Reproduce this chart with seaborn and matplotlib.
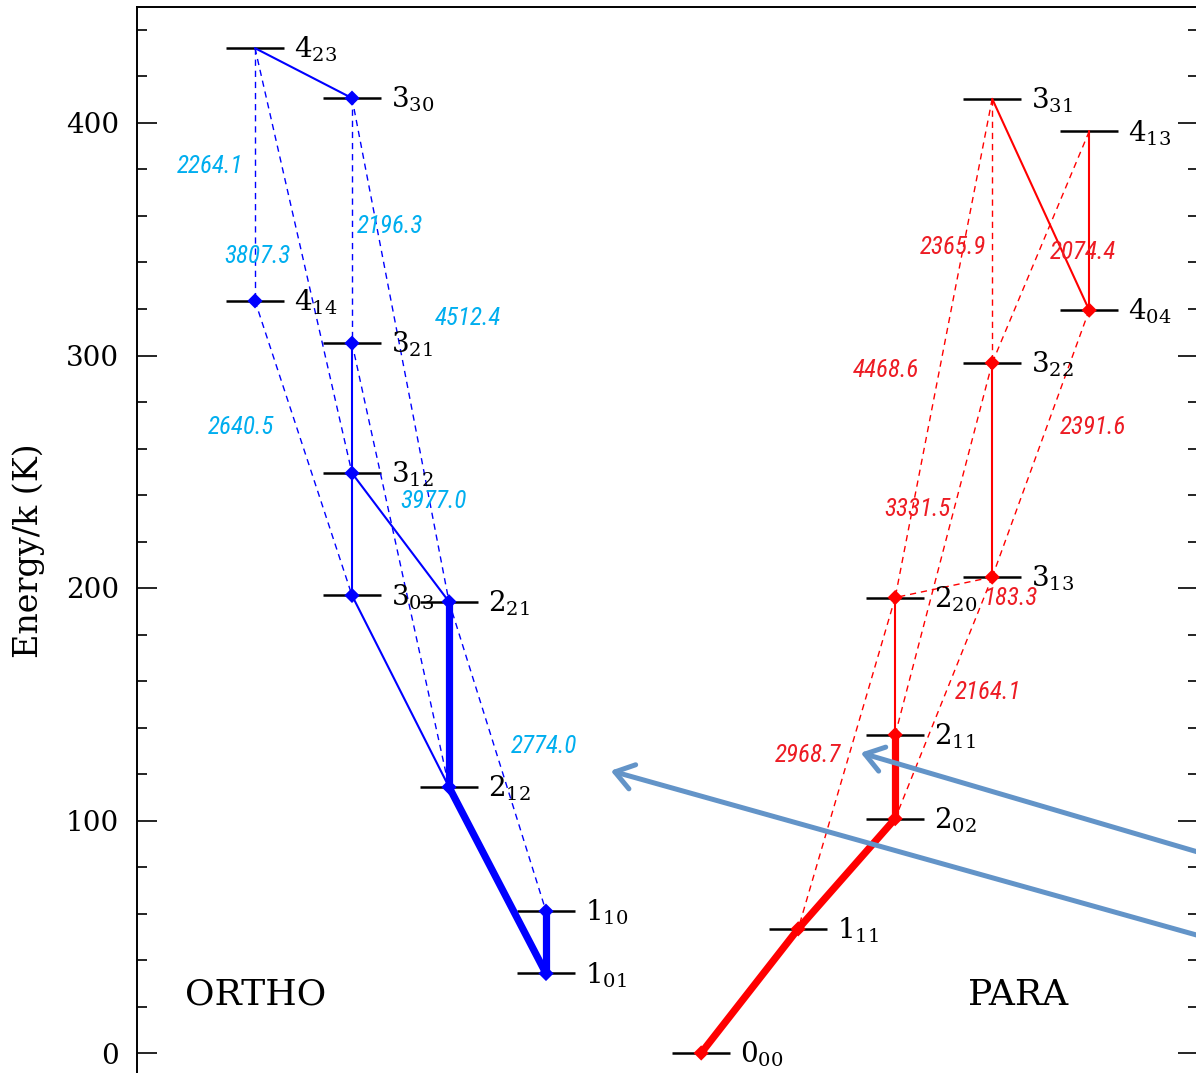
import numpy as np
import pandas as pd
import matplotlib
matplotlib.use("Agg")
import matplotlib.pyplot as plt
import seaborn as sns

# ---------------- data ----------------
ortho_levels = ["1_01", "1_10", "2_12", "2_21", "3_03", "3_12", "3_21", "4_14", "3_30", "4_23"]
ortho_energy = [34.2, 61.0, 114.4, 194.1, 196.8, 249.4, 305.3, 323.5, 410.7, 432.2]

para_levels = ["0_00", "1_11", "2_02", "2_11", "2_20", "3_13", "3_22", "4_04", "3_31", "4_13"]
para_energy = [0.0, 53.4, 100.8, 136.9, 195.9, 204.7, 296.8, 319.5, 410.4, 396.4]

ortho_upper = ["4_23", "3_21", "3_12", "3_12", "3_03", "2_21", "2_12", "1_10",
               "4_23", "4_23", "3_30", "3_30", "4_14", "3_21", "2_21"]
ortho_lower = ["3_30", "3_12", "3_03", "2_21", "2_12", "2_12", "1_01", "1_01",
               "4_14", "3_12", "3_21", "2_21", "3_03", "2_12", "1_10"]
ortho_kind = ["thin", "thin", "thin", "thin", "thin", "thick", "thick", "thick",
              "dash", "dash", "dash", "dash", "dash", "dash", "dash"]

para_upper = ["3_31", "4_13", "3_22", "2_20", "2_11", "2_02", "1_11",
              "3_31", "3_31", "4_13", "4_04", "3_22", "3_13", "2_20", "3_13"]
para_lower = ["4_04", "4_04", "3_13", "2_11", "2_02", "1_11", "0_00",
              "3_22", "2_20", "3_22", "3_13", "2_11", "2_02", "1_11", "2_20"]
para_kind = ["thin", "thin", "thin", "thin", "thick", "thick", "thick",
             "dash", "dash", "dash", "dash", "dash", "dash", "dash", "dash"]

ortho_freq = ["2264.1", "3807.3", "2196.3", "4512.4", "2640.5", "3977.0", "2774.0"]
para_freq = ["2365.9", "4468.6", "2074.4", "2391.6", "3331.5", "2164.1", "2968.7", "183.3"]

# ---------------- layout (positions of annotation text) ----------------
ortho_freq_pos = [(-0.464, 381.5), (0.021, 342.8), (1.392, 355.7), (2.196, 316.1),
                  (-0.144, 269.2), (1.845, 237.4), (2.979, 132.0)]
para_freq_pos = [(7.196, 346.7), (6.505, 293.8), (8.536, 344.5), (8.639, 269.2),
                 (6.825, 234.0), (7.557, 155.3), (5.701, 128.2), (7.784, 195.7)]


def col_x(name, species):
    J = int(name[0])
    return 4 - J if species == "ortho" else 4.6 + J


# ---------------- style ----------------
sns.set_theme(style="ticks")
plt.rcParams["font.family"] = ["DejaVu Serif"]
plt.rcParams["mathtext.fontset"] = "dejavuserif"
plt.rcParams["text.color"] = "black"
plt.rcParams["ytick.color"] = "black"
plt.rcParams["axes.labelcolor"] = "black"

BLUE = "#0000FF"
RED = "#FF0000"
CYAN_TXT = "#00AEEF"
RED_TXT = "#ED1C24"
ARROW = "#6394C8"

fig = plt.figure(figsize=(11.96, 10.73), dpi=100)
ax = fig.add_axes([137 / 1196, 1 - 1094 / 1073, (1198 - 137) / 1196, (1094 - 7) / 1073])

lev_rows = []
for sp, names, ens in (("ortho", ortho_levels, ortho_energy), ("para", para_levels, para_energy)):
    for n, e in zip(names, ens):
        lev_rows.append({"species": sp, "name": n, "E": e, "x": col_x(n, sp)})
levels = pd.DataFrame(lev_rows).set_index(["species", "name"])

seg_rows = []
seg_id = 0
for sp, ups, los, kinds in (("ortho", ortho_upper, ortho_lower, ortho_kind),
                            ("para", para_upper, para_lower, para_kind)):
    for u, l, k in zip(ups, los, kinds):
        for n in (u, l):
            r = levels.loc[(sp, n)]
            seg_rows.append({"seg": seg_id, "species": sp, "kind": k, "x": r["x"], "E": r["E"]})
        seg_id += 1
segs = pd.DataFrame(seg_rows)

# energy level bars
ax.hlines(levels["E"], levels["x"] - 0.3, levels["x"] + 0.3, color="black", lw=1.8, zorder=2)

# transitions
sns.lineplot(data=segs, x="x", y="E", units="seg", estimator=None, sort=False,
             hue="species", palette={"ortho": BLUE, "para": RED},
             style="kind", dashes={"thin": "", "thick": "", "dash": (4.5, 3.5)},
             size="kind", sizes={"thin": 1.5, "thick": 5.2, "dash": 1.0},
             legend=False, ax=ax, zorder=3)

# diamonds at the lower level of each transition
low_rows = []
for sp, los in (("ortho", ortho_lower), ("para", para_lower)):
    for n in sorted(set(los)):
        r = levels.loc[(sp, n)]
        low_rows.append({"species": sp, "x": r["x"], "E": r["E"]})
lows = pd.DataFrame(low_rows)
sns.scatterplot(data=lows, x="x", y="E", hue="species", palette={"ortho": BLUE, "para": RED},
                marker="D", s=60, linewidth=0, legend=False, ax=ax, zorder=4)

# level labels
for (sp, n), r in levels.iterrows():
    txt = r"$%s_{%s}$" % (n[0], n[2:])
    ax.annotate(txt, xy=(r["x"] + 0.3, r["E"]), xytext=(7, -7), textcoords="offset points",
                ha="left", va="baseline", fontsize=20, color="black", zorder=5)

# frequency labels
ffont = dict(family=["Liberation Sans Narrow", "DejaVu Sans Condensed", "Roboto Condensed",
                     "Open Sans Condensed", "Roboto"],
             style="italic", stretch="condensed", fontsize=18)
for s, (x, y) in zip(ortho_freq, ortho_freq_pos):
    ax.text(x, y, s, color=CYAN_TXT, ha="center", va="center", zorder=6, **ffont)
for s, (x, y) in zip(para_freq, para_freq_pos):
    ax.text(x, y, s, color=RED_TXT, ha="center", va="center", zorder=6, **ffont)

ax.text(0.005, 25, "ORTHO", fontsize=26, ha="center", va="center")
ax.text(7.866, 25, "PARA", fontsize=26, ha="center", va="center")

# axes
ax.set_xlim(-118 / 97, (1198 - 255) / 97)
ax.set_ylim(-(1094 - 1053) / 2.325, (1053 - 7) / 2.325)
ax.set_yticks([0, 100, 200, 300, 400])
ax.set_yticks(np.arange(0, 450, 20), minor=True)
ax.set_xticks([])
ax.tick_params(axis="y", which="major", direction="in", length=14.4, width=1.2,
               left=True, right=True, labelsize=20, pad=13, colors="black")
ax.tick_params(axis="y", which="minor", direction="in", length=7.2, width=1.2,
               left=True, right=True, colors="black")
ax.spines["bottom"].set_visible(False)
for s in ("top", "left", "right"):
    ax.spines[s].set_linewidth(1.4)
    ax.spines[s].set_color("black")
ax.set_xlabel("")
ax.set_ylabel("Energy/k (K)", fontsize=24, color="black")
ax.yaxis.set_label_coords(-0.087, 0.5)


def fpx(x, y):
    return (x / 1196, 1 - y / 1073)


# highlight arrows
for tip, tail in (((858, 752), (1225, 860)), ((608, 770), (1225, 943))):
    fig.patches.append(matplotlib.patches.FancyArrowPatch(
        fpx(*tail), fpx(*tip), transform=fig.transFigure,
        arrowstyle="->,head_length=1.3,head_width=0.9", mutation_scale=10,
        color=ARROW, lw=3.6, capstyle="round", joinstyle="round", zorder=10))

fig.savefig("out.png", dpi=100)
